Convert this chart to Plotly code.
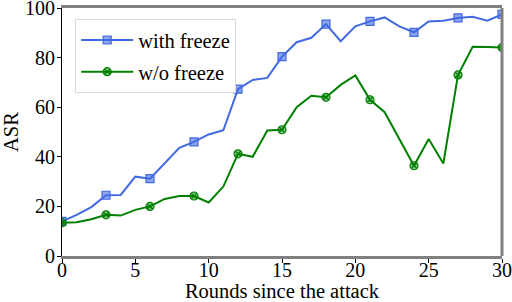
import plotly.graph_objects as go

rounds = list(range(31))
with_freeze = [14.0, 16.6, 19.7, 24.5, 24.6, 32.0, 31.2, 37.5, 43.6, 46.0, 49.0,
               50.7, 67.3, 71.0, 71.8, 80.4, 86.2, 88.0, 93.5, 86.6, 92.6,
               94.6, 96.2, 92.6, 90.2, 94.6, 94.9, 96.0, 96.5, 94.9, 97.4]
without_freeze = [13.4, 13.6, 14.8, 16.6, 16.3, 18.6, 20.0, 23.0, 24.2, 24.2, 21.6,
                  28.0, 41.2, 40.0, 50.6, 50.9, 60.0, 64.6, 64.0, 69.0, 72.8,
                  63.0, 58.0, 47.0, 36.4, 47.2, 37.3, 73.0, 84.4, 84.3, 84.1]
marker_idx = list(range(0, 31, 3))

x_ticks = [0, 5, 10, 15, 20, 25, 30]
y_ticks = [0, 20, 40, 60, 80, 100]

BLUE = "#4169E1"
GREEN = "#008000"
FONT = "Liberation Serif, Times New Roman, serif"

fig = go.Figure()

def add_series(y, name, color, symbol, fill):
    fig.add_trace(go.Scatter(
        x=rounds, y=y, mode="lines", name=name, legendgroup=name,
        line=dict(color=color, width=2), showlegend=False, hoverinfo="skip"))
    fig.add_trace(go.Scatter(
        x=[rounds[i] for i in marker_idx], y=[y[i] for i in marker_idx],
        mode="markers", name=name, legendgroup=name,
        marker=dict(symbol=symbol, size=8, color=fill,
                    line=dict(color=color, width=1.2)),
        showlegend=False))
    # legend entry
    fig.add_trace(go.Scatter(
        x=[None], y=[None], mode="lines+markers", name=name, legendgroup=name,
        line=dict(color=color, width=2),
        marker=dict(symbol=symbol, size=8, color=fill,
                    line=dict(color=color, width=1.2))))

add_series(with_freeze, "with freeze", BLUE, "square", "rgba(65,105,225,0.6)")
add_series(without_freeze, "w/o freeze", GREEN, "circle-x", "rgba(0,128,0,0.5)")

fig.update_layout(
    width=512, height=302,
    margin=dict(l=62, r=10, t=8, b=46),
    paper_bgcolor="white", plot_bgcolor="white",
    font=dict(family=FONT, size=20, color="black"),
    legend=dict(x=0.03, y=0.955, xanchor="left", yanchor="top",
                bgcolor="white", bordercolor="#d9d9d9", borderwidth=1,
                itemwidth=52,
                font=dict(family=FONT, size=20.5), tracegroupgap=2),
    xaxis=dict(range=[0, 30], tickvals=x_ticks, showgrid=False, zeroline=False,
               automargin=False, ticklabeloverflow="allow",
               showline=True, linecolor="#808080", linewidth=3, mirror=True,
               ticks="outside", ticklen=4, tickcolor="black",
               ticklabelstandoff=-10,
               title=dict(text="Rounds since the attack", standoff=0,
                          font=dict(family=FONT, size=20.5)),
               tickfont=dict(family=FONT, size=20)),
    yaxis=dict(range=[0, 100], tickvals=y_ticks, showgrid=False, zeroline=False,
               automargin=False, ticklabeloverflow="allow",
               showline=True, linecolor="black", linewidth=1,
               ticks="outside", ticklen=4, tickcolor="black",
               ticklabelstandoff=-2,
               title=dict(text="ASR", standoff=10,
                          font=dict(family=FONT, size=20.5)),
               tickfont=dict(family=FONT, size=20)),
)
fig.add_shape(type="line", xref="paper", yref="paper", x0=1, x1=1, y0=0, y1=1,
              line=dict(color="#808080", width=3))

fig.write_html("out.html", post_script="document.body.style.margin='0';",
               config={"displayModeBar": False})
